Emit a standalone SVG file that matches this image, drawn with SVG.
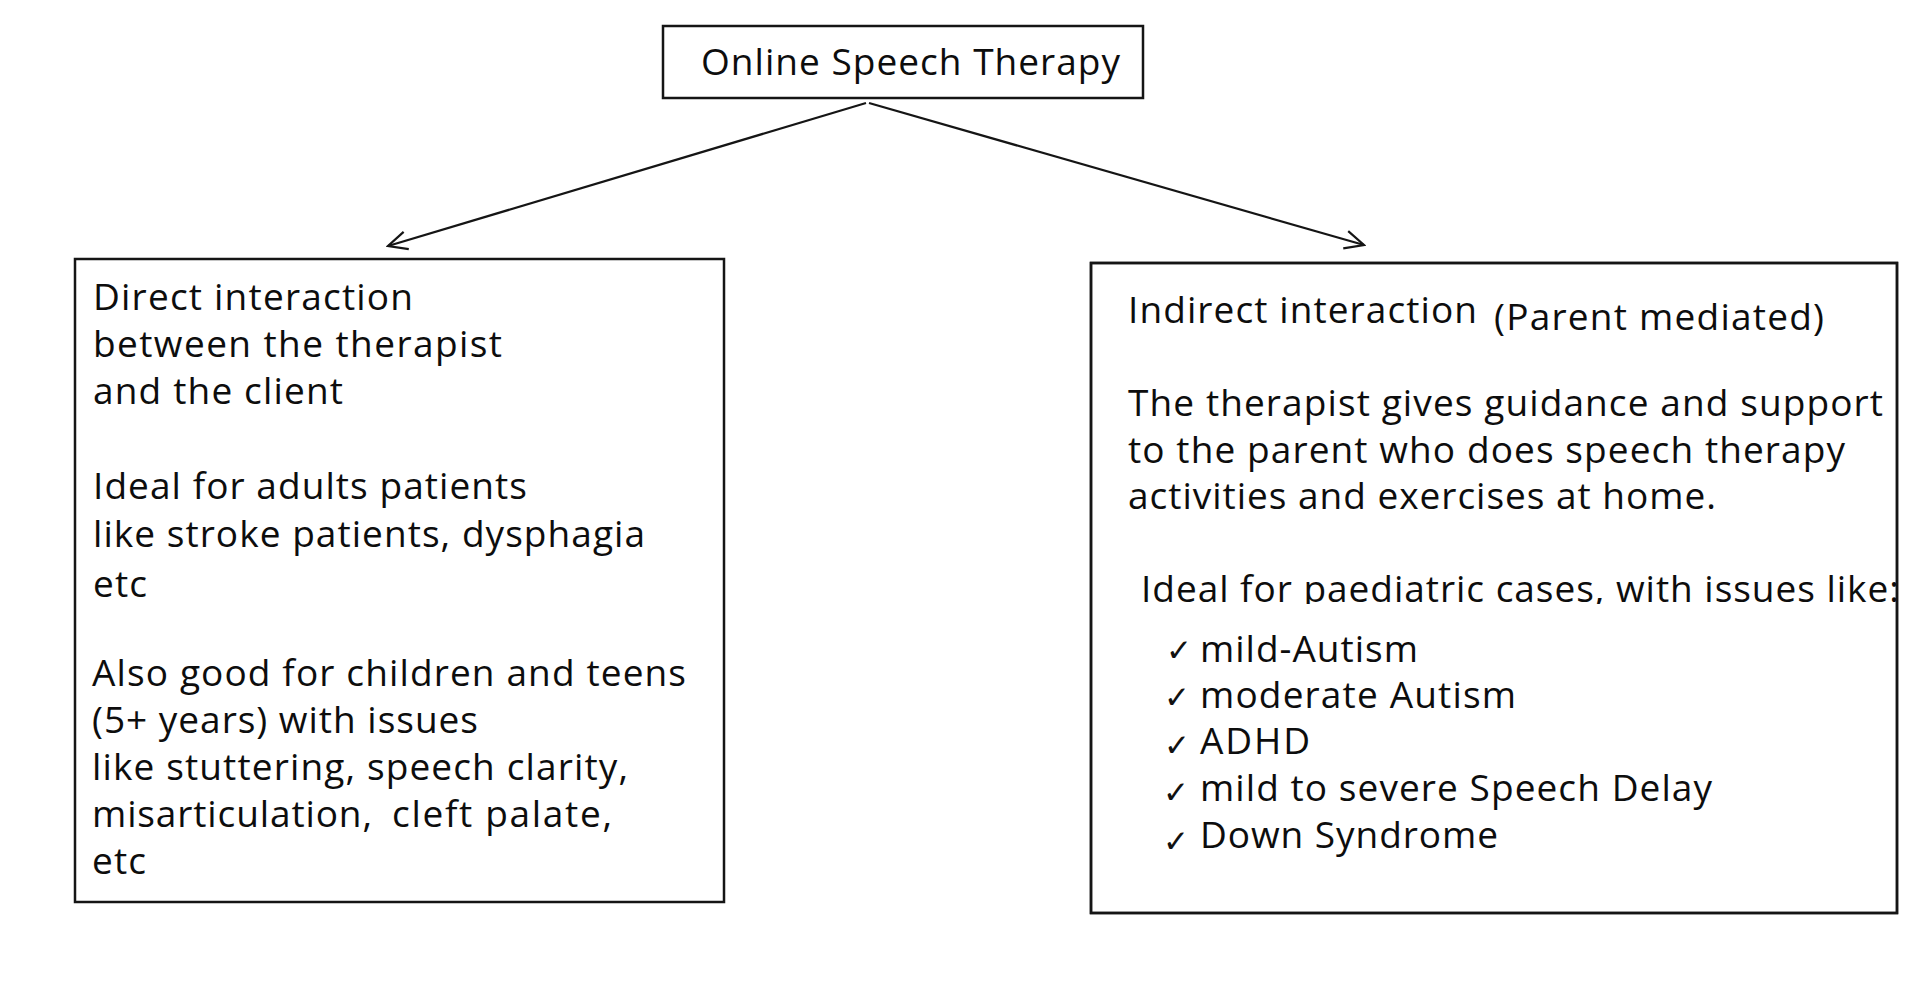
<svg xmlns="http://www.w3.org/2000/svg" width="1918" height="992" viewBox="0 0 1918 992">
<style>
.box{fill:#fff;stroke:#151515;stroke-width:2.5}
.t{font-family:"Open Sans","Noto Sans","Liberation Sans",sans-serif;font-size:37px;fill:#0d0d0d}
.chk{font-family:"DejaVu Sans",sans-serif;font-size:31px;fill:#111}
.edge{fill:none;stroke:#151515;stroke-width:2.2}
</style>
<defs>
<marker id="arr" markerUnits="userSpaceOnUse" markerWidth="26" markerHeight="26" viewBox="0 0 26 26" refX="24" refY="13" orient="auto">
<path d="M5,4 L24,13 L5,22" fill="none" stroke="#151515" stroke-width="2.2"/>
</marker>
<clipPath id="clipIdeal"><rect x="1100" y="560" width="797" height="44"/></clipPath>
</defs>
<rect width="1918" height="992" fill="#fff"/>

<g id="connectors">
<line class="edge" x1="866" y1="103" x2="388" y2="246" marker-end="url(#arr)"/>
<line class="edge" x1="869" y1="103" x2="1364" y2="245" marker-end="url(#arr)"/>
</g>

<g id="node-top">
<rect class="box" x="663" y="26" width="480" height="72"/>
<text class="t" x="701" y="75" font-size="40" textLength="419">Online Speech Therapy</text>
</g>

<g id="node-direct">
<rect class="box" x="75" y="259" width="649" height="643"/>
<text class="t" x="93" y="310" textLength="320">Direct interaction</text>
<text class="t" x="93" y="357" textLength="409">between the therapist</text>
<text class="t" x="93" y="404" textLength="250">and the client</text>
<text class="t" x="93" y="499" textLength="434">Ideal for adults patients</text>
<text class="t" x="93" y="547" textLength="552">like stroke patients, dysphagia</text>
<text class="t" x="93" y="597" textLength="54">etc</text>
<text class="t" x="92" y="686" textLength="594">Also good for children and teens</text>
<text class="t" x="92" y="733" textLength="386">(5+ years) with issues</text>
<text class="t" x="92" y="780" textLength="536">like stuttering, speech clarity,</text>
<text class="t" x="92" y="827"><tspan textLength="280">misarticulation,</tspan><tspan x="392" textLength="220">cleft palate,</tspan></text>
<text class="t" x="92" y="874" textLength="54">etc</text>
</g>

<g id="node-indirect">
<rect class="box" x="1091" y="263" width="806" height="650"/>
<text class="t" x="1128" y="323" font-size="39" textLength="349">Indirect interaction</text>
<text class="t" x="1494" y="330" font-size="36" textLength="330">(Parent mediated)</text>
<text class="t" x="1128" y="416" textLength="755">The therapist gives guidance and support</text>
<text class="t" x="1128" y="463" textLength="717">to the parent who does speech therapy</text>
<text class="t" x="1128" y="509" textLength="588">activities and exercises at home.</text>
<text class="t" x="1141" y="602" textLength="758" clip-path="url(#clipIdeal)">Ideal for paediatric cases, with issues like:</text>
<text class="chk" x="1166" y="661">✓</text>
<text class="t" x="1200" y="662" textLength="218">mild-Autism</text>
<text class="chk" x="1164" y="708">✓</text>
<text class="t" x="1200" y="708" textLength="316">moderate Autism</text>
<text class="chk" x="1164" y="756">✓</text>
<text class="t" x="1200" y="754" textLength="110">ADHD</text>
<text class="chk" x="1163" y="803">✓</text>
<text class="t" x="1200" y="801" textLength="512">mild to severe Speech Delay</text>
<text class="chk" x="1163" y="852">✓</text>
<text class="t" x="1200" y="848" textLength="298">Down Syndrome</text>
<rect x="1091" y="263" width="806" height="650" fill="none" stroke="#151515" stroke-width="2.5"/>
</g>
</svg>
